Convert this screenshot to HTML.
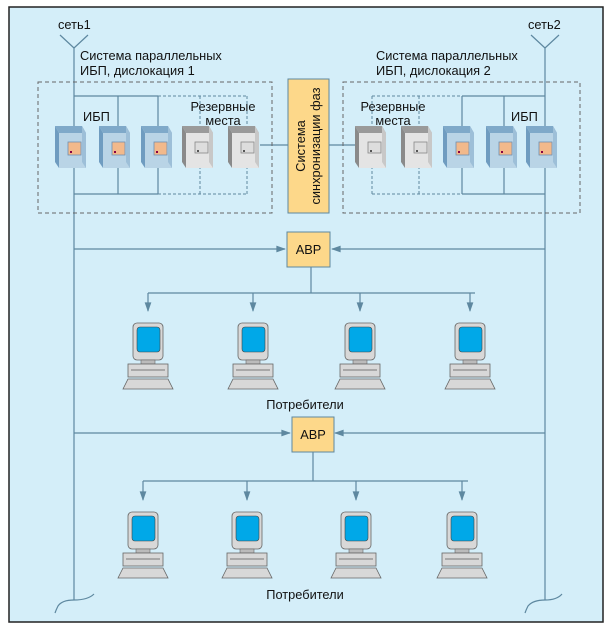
<!DOCTYPE html>
<html><head><meta charset="utf-8"><style>
html,body{margin:0;padding:0;background:#fff;}
svg{display:block;}
text{font-family:"Liberation Sans",sans-serif;fill:#111;}
</style></head><body>
<svg width="610" height="635" viewBox="0 0 610 635" xmlns="http://www.w3.org/2000/svg">
<defs>
<g id="ups">
 <polygon points="-17,0 10,0 14,7 -13,7" fill="#7fa9c9"/>
 <polygon points="-17,0 -13,7 -13,42 -17,36" fill="#6f9cc0"/>
 <rect x="-13" y="7" width="27" height="35" fill="#b9d4e6"/>
 <polygon points="10,0 14,7 14,42 10,36" fill="#9dbfd8"/>
 <rect x="-4" y="16" width="13" height="13" fill="#f2b98b" stroke="#6f8fb0" stroke-width="0.8"/>
 <rect x="-2" y="25" width="2" height="2" fill="#804"/>
</g>
<g id="res">
 <polygon points="-17,0 10,0 14,7 -13,7" fill="#9a9a9a"/>
 <polygon points="-17,0 -13,7 -13,42 -17,36" fill="#8a8a8a"/>
 <rect x="-13" y="7" width="27" height="35" fill="#e4e4e4"/>
 <polygon points="10,0 14,7 14,42 10,36" fill="#c8c8c8"/>
 <rect x="-4" y="16" width="13" height="11" fill="#ddd" stroke="#888" stroke-width="0.8"/>
 <rect x="-2" y="24" width="2" height="2" fill="#555"/>
</g>
<g id="pc">
 <rect x="-15" y="0" width="30" height="37" rx="4" fill="#d8d8d8" stroke="#666" stroke-width="0.8"/>
 <rect x="-11" y="4" width="23" height="25" rx="3" fill="#00a8e8" stroke="#444" stroke-width="0.6"/>
 <rect x="-7" y="37" width="14" height="4" fill="#bbb" stroke="#666" stroke-width="0.6"/>
 <rect x="-20" y="41" width="40" height="13" fill="#d8d8d8" stroke="#666" stroke-width="0.8"/>
 <line x1="-17" y1="47" x2="17" y2="47" stroke="#777"/>
 <polygon points="-25,66 -20,56 20,56 25,66" fill="#d8d8d8" stroke="#666" stroke-width="0.8"/>
</g>
<marker id="ar" viewBox="0 0 10 10" refX="9" refY="5" markerWidth="9" markerHeight="8" orient="auto"><path d="M0,1.5 L10,5 L0,8.5 Z" fill="#5e88a0"/></marker>
</defs>
<rect x="9" y="7" width="594" height="615" fill="#d4eef9" stroke="#222" stroke-width="1.5"/>
<g stroke="#5e88a0" stroke-width="1.2" fill="none">
 <line x1="74" y1="48" x2="74" y2="600"/>
 <line x1="545" y1="48" x2="545" y2="600"/>
 <path d="M60,35 L74,48 L88,35"/>
 <path d="M531,35 L545,48 L559,35"/>
 <path d="M74,600 Q88,600 94,594 M74,600 Q62,600 58,606 Q56,610 55,613"/>
 <path d="M545,600 Q557,600 562,594 M545,600 Q533,600 528,606 Q526,610 525,613"/>
 <line x1="74" y1="96" x2="158" y2="96"/>
 <line x1="74" y1="194" x2="158" y2="194"/>
 <line x1="118" y1="96" x2="118" y2="194"/>
 <line x1="158" y1="96" x2="158" y2="194"/>
 <line x1="462" y1="96" x2="545" y2="96"/>
 <line x1="462" y1="194" x2="545" y2="194"/>
 <line x1="462" y1="96" x2="462" y2="194"/>
 <line x1="504" y1="96" x2="504" y2="194"/>
 <line x1="260" y1="145" x2="288" y2="145"/>
 <line x1="329" y1="145" x2="357" y2="145"/>
 <line x1="74" y1="249" x2="285" y2="249" marker-end="url(#ar)"/>
 <line x1="545" y1="249" x2="332" y2="249" marker-end="url(#ar)"/>
 <line x1="311" y1="267" x2="311" y2="293"/>
 <line x1="148" y1="293" x2="475" y2="293"/>
 <line x1="148" y1="293" x2="148" y2="311" marker-end="url(#ar)"/>
 <line x1="253" y1="293" x2="253" y2="311" marker-end="url(#ar)"/>
 <line x1="360" y1="293" x2="360" y2="311" marker-end="url(#ar)"/>
 <line x1="470" y1="293" x2="470" y2="311" marker-end="url(#ar)"/>
 <line x1="74" y1="433" x2="290" y2="433" marker-end="url(#ar)"/>
 <line x1="545" y1="433" x2="335" y2="433" marker-end="url(#ar)"/>
 <line x1="313" y1="452" x2="313" y2="481"/>
 <line x1="143" y1="481" x2="468" y2="481"/>
 <line x1="143" y1="481" x2="143" y2="500" marker-end="url(#ar)"/>
 <line x1="247" y1="481" x2="247" y2="500" marker-end="url(#ar)"/>
 <line x1="356" y1="481" x2="356" y2="500" marker-end="url(#ar)"/>
 <line x1="462" y1="481" x2="462" y2="500" marker-end="url(#ar)"/>
</g>
<g stroke="#5e88a0" stroke-width="1" fill="none" stroke-dasharray="3,2">
 <line x1="158" y1="96" x2="247" y2="96"/>
 <line x1="158" y1="194" x2="247" y2="194"/>
 <line x1="200" y1="96" x2="200" y2="194"/>
 <line x1="247" y1="96" x2="247" y2="194"/>
 <line x1="372" y1="96" x2="462" y2="96"/>
 <line x1="372" y1="194" x2="462" y2="194"/>
 <line x1="372" y1="96" x2="372" y2="194"/>
 <line x1="419" y1="96" x2="419" y2="194"/>
</g>
<g stroke="#666" stroke-width="1" fill="none" stroke-dasharray="4,3">
 <rect x="38" y="82" width="234" height="131"/>
 <rect x="343" y="82" width="237" height="131"/>
</g>
<use href="#ups" x="72" y="126"/>
<use href="#ups" x="116" y="126"/>
<use href="#ups" x="158" y="126"/>
<use href="#res" x="199" y="126"/>
<use href="#res" x="245" y="126"/>
<use href="#res" x="372" y="126"/>
<use href="#res" x="418" y="126"/>
<use href="#ups" x="460" y="126"/>
<use href="#ups" x="503" y="126"/>
<use href="#ups" x="543" y="126"/>
<rect x="288" y="79" width="41" height="134" fill="#fdd88a" stroke="#5e88a0" stroke-width="1"/>
<text transform="translate(305,146) rotate(-90)" text-anchor="middle" font-size="12.8">Система</text>
<text transform="translate(320,146) rotate(-90)" text-anchor="middle" font-size="12.8">синхронизации фаз</text>
<rect x="287" y="232" width="43" height="35" fill="#fdd88a" stroke="#5e88a0"/>
<text x="308.5" y="254" text-anchor="middle" font-size="12.8">АВР</text>
<rect x="292" y="417" width="42" height="35" fill="#fdd88a" stroke="#5e88a0"/>
<text x="313" y="439" text-anchor="middle" font-size="12.8">АВР</text>
<use href="#pc" x="148" y="323"/>
<use href="#pc" x="253" y="323"/>
<use href="#pc" x="360" y="323"/>
<use href="#pc" x="470" y="323"/>
<use href="#pc" x="143" y="512"/>
<use href="#pc" x="247" y="512"/>
<use href="#pc" x="356" y="512"/>
<use href="#pc" x="462" y="512"/>
<text x="58" y="29" font-size="12.8">сеть1</text>
<text x="528" y="29" font-size="12.8">сеть2</text>
<text x="80" y="60" font-size="12.8">Система параллельных</text>
<text x="80" y="75" font-size="12.8">ИБП, дислокация 1</text>
<text x="376" y="60" font-size="12.8">Система параллельных</text>
<text x="376" y="75" font-size="12.8">ИБП, дислокация 2</text>
<text x="83" y="121" font-size="12.8">ИБП</text>
<text x="511" y="121" font-size="12.8">ИБП</text>
<text x="223" y="111" text-anchor="middle" font-size="12.8">Резервные</text>
<text x="223" y="125" text-anchor="middle" font-size="12.8">места</text>
<text x="393" y="111" text-anchor="middle" font-size="12.8">Резервные</text>
<text x="393" y="125" text-anchor="middle" font-size="12.8">места</text>
<text x="305" y="409" text-anchor="middle" font-size="12.8">Потребители</text>
<text x="305" y="599" text-anchor="middle" font-size="12.8">Потребители</text>
</svg>
</body></html>
